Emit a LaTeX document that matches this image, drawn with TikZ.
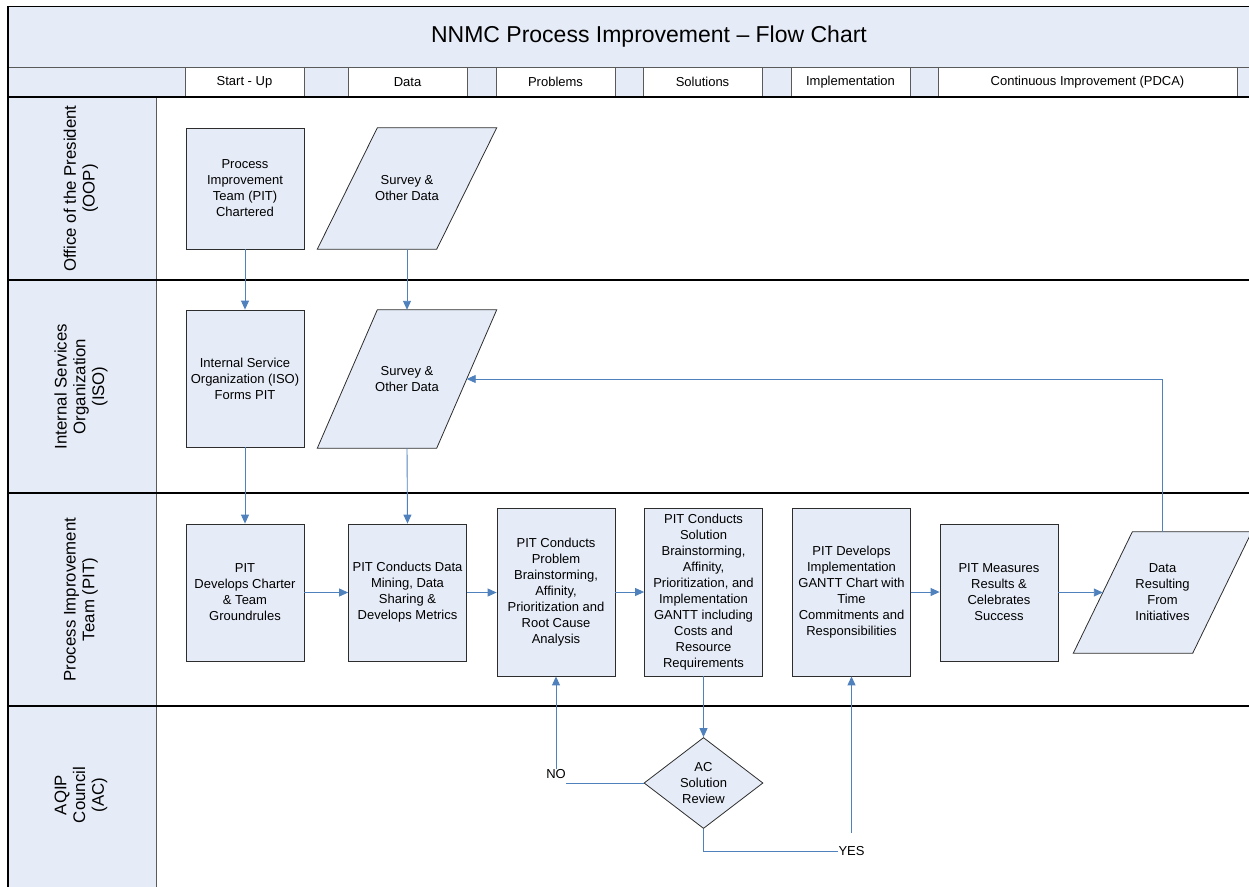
\documentclass[tikz,border=0pt]{standalone}
\usepackage{fontspec}
\setmainfont{Liberation Sans}
\usetikzlibrary{arrows.meta,shapes.geometric,calc,backgrounds}

\definecolor{laneblue}{RGB}{230,236,247}
\definecolor{flowblue}{RGB}{79,129,189}
\definecolor{boxline}{RGB}{45,45,45}
\definecolor{cellline}{RGB}{90,90,90}

\begin{document}
\begin{tikzpicture}[
    x = 1pt, y = -1pt,
    every node/.style = {font = \fontsize{13}{16}\selectfont, align = center},
    procbox/.style = {draw = boxline, fill = laneblue, line width = 0.8pt,
        minimum width = 118, inner sep = 0pt},
    datatext/.style = {minimum width = 119, inner sep = 0pt},
    databox/.style = {draw = boxline, fill = laneblue, line width = 0.8pt},
    decision/.style = {diamond, draw = boxline, fill = laneblue, line width = 0.8pt,
        aspect = 1.3, inner sep = 0pt, minimum width = 119, minimum height = 91},
    lanelabel/.style = {rotate = 90, font = \fontsize{16.8}{18.7}\selectfont},
    lane/.style = {draw = black, line width = 1.1pt},
    flowline/.style = {draw = flowblue, line width = 0.9pt},
    flow/.style = {flowline, -{Triangle[length=9pt,width=8pt]}}]

\useasboundingbox (0,0) rectangle (1249,886);

% title band and phase row
\filldraw[fill = laneblue, draw = black, line width = 1pt] (8,6) rectangle (1262,67);
\node[font = \fontsize{23}{27}\selectfont] (title) at (649,36.5)
    {NNMC Process Improvement – Flow Chart};
\filldraw[fill = laneblue, draw = cellline, line width = 0.8pt] (8,67) rectangle (1262,97);
\foreach \a/\b/\t in {185/304/Start - Up, 348/467/Data, 496/615/Problems,
    643/762/Solutions, 791/910/Implementation, 938/1237/Continuous Improvement (PDCA)}{
  \filldraw[fill = white, draw = cellline, line width = 0.8pt] (\a,67) rectangle (\b,97);
  \node (phase\a) at ({(\a+\b)/2},82) {\t};
}

% swim lanes
\fill[laneblue] (8,97) rectangle (156,890);
\draw[cellline, line width = 0.8pt] (156,97) -- (156,890);
\draw[lane] (8,6) -- (8,890);
\draw[lane] (8,97) -- (1262,97)
            (8,280) -- (1262,280)
            (8,493) -- (1262,493)
            (8,706) -- (1262,706);
\node[lanelabel] (laneOOP) at (81,188.5) {Office of the President\\(OOP)};
\node[lanelabel] (laneISO) at (81,386.5) {Internal Services\\Organization\\(ISO)};
\node[lanelabel] (lanePIT) at (81,599.5) {Process Improvement\\Team (PIT)};
\node[lanelabel] (laneAC) at (81,795) {AQIP\\Council\\(AC)};

% steps
\node[procbox, minimum height = 121] (chartered) at (245,188.5)
    {Process\\Improvement\\Team (PIT)\\Chartered};
\node[datatext, minimum height = 121] (survOOP) at (407,188.5) {Survey \&\\Other Data};
\node[procbox, minimum height = 137] (isoForms) at (245,378.5)
    {Internal Service\\Organization (ISO)\\Forms PIT};
\node[datatext, minimum height = 138] (survISO) at (407,379) {Survey \&\\Other Data};
\node[procbox, minimum height = 137] (pitCharter) at (245,592.5)
    {PIT\\Develops Charter\\\& Team\\Groundrules};
\node[procbox, minimum height = 137] (dataMining) at (407.5,592.5)
    {PIT Conducts Data\\Mining, Data\\Sharing \&\\Develops Metrics};
\node[procbox, minimum height = 168] (problems) at (556,592)
    {PIT Conducts\\Problem\\Brainstorming,\\Affinity,\\Prioritization and\\Root Cause\\Analysis};
\node[procbox, minimum height = 168] (solutions) at (703.5,592)
    {PIT Conducts\\Solution\\Brainstorming,\\Affinity,\\Prioritization, and\\Implementation\\GANTT including\\Costs and\\Resource\\Requirements};
\node[procbox, minimum height = 168] (implement) at (851.5,592)
    {PIT Develops\\Implementation\\GANTT Chart with\\Time\\Commitments and\\Responsibilities};
\node[procbox, minimum height = 137] (measures) at (999,592.5)
    {PIT Measures\\Results \&\\Celebrates\\Success};
\node[datatext, minimum height = 121] (dataResult) at (1162.5,592.5)
    {Data\\Resulting\\From\\Initiatives};
\node[decision] (review) at (703.5,783) {AC\\Solution\\Review};
\node[inner sep = 0pt] (no) at (556,774) {NO};
\node[inner sep = 0pt] (yes) at (851.5,851.5) {YES};

% data shapes
\begin{scope}[on background layer]
\foreach \n/\s in {survOOP/30, survISO/30, dataResult/29.5}
  \filldraw[databox] ($(\n.south west)+(-\s,0)$) -- ($(\n.south east)+(-\s,0)$) --
      ($(\n.north east)+(\s,0)$) -- ($(\n.north west)+(\s,0)$) -- cycle;
\end{scope}

% connectors
\draw[flow] (chartered.south) -- (isoForms.north);
\draw[flow] (survOOP.south) -- (survISO.north);
\draw[flow] (isoForms.south) -- (pitCharter.north);
\draw[flow] (survISO.south) -- (dataMining.north);
\draw[flow] (pitCharter.east) -- (dataMining.west);
\draw[flow] (dataMining.east) -- (dataMining.east -| problems.west);
\draw[flow] (problems.east) -- (solutions.west);
\draw[flow] (implement.east) -- (implement.east -| measures.west);
\draw[flow] (measures.east) -- (dataResult.west);
\draw[flow] (dataResult.north) |- (survISO.east);
\draw[flow] (solutions.south) -- (review.north);
\draw[flowline] (review.west) -- (review.west -| no.east);
\draw[flow] (no.north) -- (problems.south);
\draw[flowline] (review.south) |- (yes.west);
\draw[flow, shorten <= 14pt] (yes.north) -- (implement.south);
\end{tikzpicture}
\end{document}
